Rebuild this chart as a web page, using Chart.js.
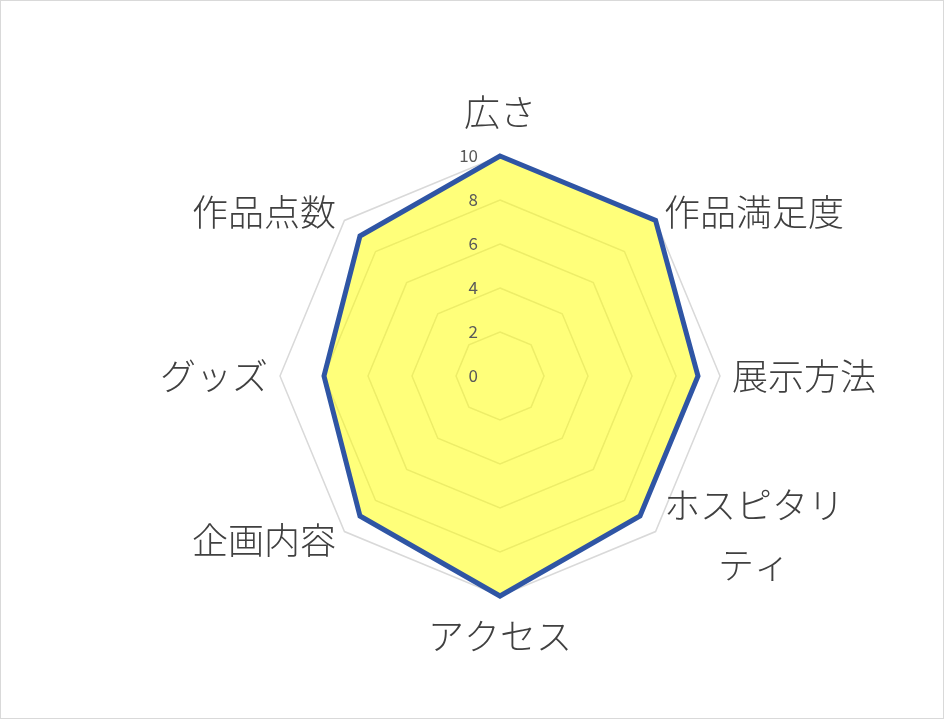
<!DOCTYPE html>
<html>
<head>
<meta charset="utf-8">
<script src="https://cdn.jsdelivr.net/npm/chart.js@4.4.1/dist/chart.umd.min.js"></script>
<style>
  html, body { margin: 0; padding: 0; background: #ffffff; }
  #wrap { position: relative; width: 945px; height: 720px; }
  #frame { position: absolute; left: 0; top: 0; width: 942px; height: 717px; border: 1px solid #d9d9d9; pointer-events: none; }
  canvas { position: absolute; left: 0; top: 0; }
</style>
</head>
<body>
<div id="wrap">
  <canvas id="c" width="945" height="720"></canvas>
  <div id="frame"></div>
</div>
<script>
const categories = ['広さ', '作品満足度', '展示方法', ['ホスピタリ', 'ティ'], 'アクセス', '企画内容', 'グッズ', '作品点数'];
const values = [10, 10, 9, 9, 10, 9, 8, 9];
const tickValues = [0, 2, 4, 6, 8, 10];

const labelPlugin = {
  id: 'jpLabels',
  afterDraw(chart) {
    const s = chart.scales.r;
    const ctx = chart.ctx;
    ctx.save();
    ctx.font = '300 36px "Noto Sans CJK JP"';
    ctx.fillStyle = '#404040';
    ctx.textBaseline = 'middle';
    ctx.textAlign = 'center';
    chart.data.labels.forEach((lab, i) => {
      const lines = Array.isArray(lab) ? lab : [lab];
      const deg = Math.round(s.getIndexAngle(i) * 180 / Math.PI) % 360;
      const pad = deg === 0 ? 44 : (deg === 180 ? 40 : 12);
      const pos = s.getPointPosition(i, s.drawingArea + pad);
      const maxW = Math.max(...lines.map(l => ctx.measureText(l).width));
      let cx = pos.x;
      if (deg > 0 && deg < 180) cx = pos.x + maxW / 2;
      else if (deg > 180) cx = pos.x - maxW / 2;
      const lh = 60;
      const y0 = pos.y - (lines.length - 1) * lh / 2 - (lines.length > 1 ? 5 : 0);
      lines.forEach((l, k) => ctx.fillText(l, cx, y0 + k * lh));
    });
    ctx.font = '17px "Noto Sans CJK JP"';
    ctx.fillStyle = '#595959';
    ctx.textAlign = 'right';
    tickValues.forEach(v => {
      const d = s.getDistanceFromCenterForValue(v);
      ctx.fillText(String(v), s.xCenter - 22, s.yCenter - d);
    });
    ctx.restore();
  }
};

new Chart(document.getElementById('c'), {
  type: 'radar',
  data: {
    labels: categories,
    datasets: [{
      data: values,
      borderColor: '#2F55A4',
      borderWidth: 5,
      backgroundColor: 'rgba(255,255,0,0.52)',
      fill: true,
      pointRadius: 0,
      pointHoverRadius: 0,
      borderJoinStyle: 'miter'
    }]
  },
  options: {
    responsive: false,
    animation: false,
    devicePixelRatio: 1,
    layout: { padding: { left: 280, right: 224, top: 156, bottom: 123 } },
    plugins: { legend: { display: false }, tooltip: { enabled: false } },
    scales: {
      r: {
        min: 0,
        max: 10,
        ticks: { stepSize: 2, display: false },
        pointLabels: { display: false },
        angleLines: { display: false },
        grid: { color: '#d9d9d9', lineWidth: 1.5 }
      }
    }
  },
  plugins: [labelPlugin]
});
</script>
</body>
</html>
